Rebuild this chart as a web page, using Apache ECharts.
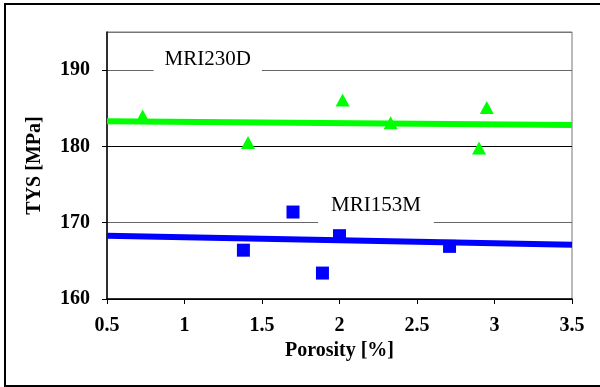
<!DOCTYPE html>
<html>
<head>
<meta charset="utf-8">
<script src="https://cdn.jsdelivr.net/npm/echarts@6/dist/echarts.min.js"></script>
<style>
html,body{margin:0;padding:0;background:#fff;}
#chart{width:600px;height:387px;}
</style>
</head>
<body>
<div id="chart"></div>
<script>
// MRI230D measurements: porosity [%] and TYS [MPa]
const mri230dPorosity = [0.73, 1.41, 2.02, 2.33, 2.95, 2.90];
const mri230dTys      = [184.0, 180.5, 186.1, 183.1, 185.1, 179.8];
// MRI153M measurements
const mri153mPorosity = [1.38, 1.70, 1.89, 2.00, 2.71];
const mri153mTys      = [166.4, 171.4, 163.4, 168.3, 166.9];
// Linear trend lines (end points at porosity 0.5 and 3.5)
const trendPorosity = [0.5, 3.5];
const mri230dTrend  = [183.3, 182.8];
const mri153mTrend  = [168.3, 167.1];
// Series labels, anchored in data units
const seriesLabelText = ['MRI230D', 'MRI153M'];
const seriesLabelX    = [1.15, 2.235];
const seriesLabelY    = [191.45, 172.2];

const font = 'Liberation Serif, Times New Roman, serif';
const zip = (xs, ys) => xs.map((x, i) => [x, ys[i]]);

const chart = echarts.init(document.getElementById('chart'), null, { renderer: 'canvas' });

// A text box with a white background that interrupts the grid line under it
const labelPoint = (i, hPad) => ({
  coord: [seriesLabelX[i], seriesLabelY[i]],
  symbol: 'rect',
  symbolSize: 0,
  label: {
    show: true,
    position: 'inside',
    formatter: seriesLabelText[i],
    fontFamily: font,
    fontSize: 21,
    color: '#000',
    backgroundColor: '#fff',
    padding: [10, hPad, 10, hPad]
  }
});

const tickFont = { fontFamily: font, fontSize: 20, fontWeight: 'bold', color: '#000' };

chart.setOption({
  animation: false,
  backgroundColor: '#fff',
  graphic: [{
    type: 'rect',
    shape: { x: 5, y: 4, width: 600, height: 382 },
    style: { fill: 'none', stroke: '#000', lineWidth: 2 },
    z: 100
  }],
  grid: { left: 107, right: 28, top: 32, bottom: 88, show: true, borderColor: '#777', borderWidth: 1 },
  xAxis: {
    type: 'value', min: 0.5, max: 3.5, interval: 0.5,
    name: 'Porosity [%]', nameLocation: 'middle', nameGap: 41,
    nameTextStyle: tickFont,
    axisLine: { show: true, lineStyle: { color: '#000', width: 1.5 } },
    axisTick: { show: true, length: 5, lineStyle: { color: '#000' } },
    axisLabel: Object.assign({ margin: 17 }, tickFont),
    splitLine: { show: false }
  },
  yAxis: {
    type: 'value', min: 160, max: 195, interval: 10,
    name: 'TYS [MPa]', nameLocation: 'middle', nameGap: 62, nameRotate: 90,
    nameTextStyle: tickFont,
    axisLine: { show: true, lineStyle: { color: '#000', width: 1.5 } },
    axisTick: { show: true, length: 5, lineStyle: { color: '#000' } },
    axisLabel: Object.assign({ margin: 17, showMaxLabel: false }, tickFont),
    splitLine: { show: true, lineStyle: { color: ['#000', '#666', '#000', '#666', '#777'], width: 1 } }
  },
  series: [
    {
      name: 'MRI230D trend', type: 'line', data: zip(trendPorosity, mri230dTrend),
      symbol: 'none', lineStyle: { color: '#00ff00', width: 6 }, z: 2,
      markPoint: { data: [labelPoint(0, 11)], z: 5 }
    },
    {
      name: 'MRI153M trend', type: 'line', data: zip(trendPorosity, mri153mTrend),
      symbol: 'none', lineStyle: { color: '#0000ff', width: 6 }, z: 2,
      markPoint: { data: [labelPoint(1, 13)], z: 5 }
    },
    {
      name: 'MRI230D', type: 'scatter', data: zip(mri230dPorosity, mri230dTys),
      symbol: 'triangle', symbolSize: [14, 13], itemStyle: { color: '#00ff00', opacity: 1 }, z: 3
    },
    {
      name: 'MRI153M', type: 'scatter', data: zip(mri153mPorosity, mri153mTys),
      symbol: 'rect', symbolSize: 13, itemStyle: { color: '#0000ff', opacity: 1 }, z: 3
    }
  ]
});
</script>
</body>
</html>
